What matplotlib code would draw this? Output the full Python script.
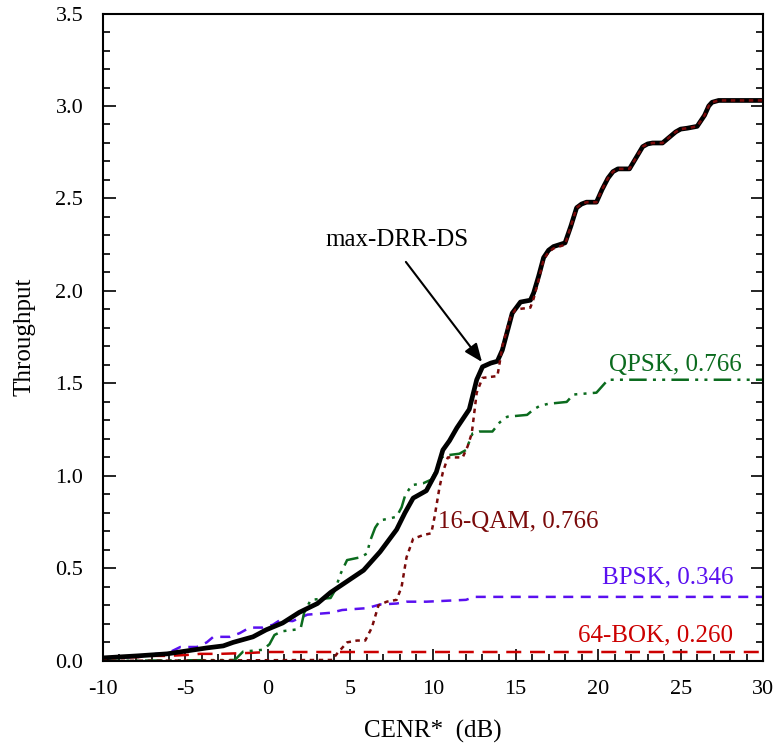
import matplotlib.pyplot as plt
from matplotlib.ticker import MultipleLocator

plt.rcParams['font.family'] = ['Liberation Serif', 'DejaVu Serif']
plt.rcParams['axes.unicode_minus'] = False

# max-DRR-DS (black, thick)
drr_x = [-10, -7.9, -6.1, -4.9, -3.7, -2.7, -2.1, -0.9, -0.1, 0.9, 1.9, 3.0, 3.8, 4.8,
         5.8, 6.8, 7.8, 8.3, 8.8, 9.6, 10.2, 10.6, 11.0, 11.45, 11.6, 12.2, 12.65, 13.0,
         13.5, 13.9, 14.2, 14.5, 14.8, 15.3, 15.9, 16.1, 16.4, 16.7, 17.0, 17.3, 18.0,
         18.35, 18.7, 19.0, 19.3, 19.9, 20.25, 20.6, 20.9, 21.2, 21.9, 22.3, 22.7, 23.0,
         23.3, 23.9, 24.3, 24.7, 25.0, 25.4, 26.0, 26.45, 26.7, 26.9, 27.3, 30]
drr_y = [0.016, 0.027, 0.038, 0.054, 0.07, 0.081, 0.10, 0.13, 0.168, 0.205, 0.262, 0.31,
         0.37, 0.43, 0.49, 0.59, 0.71, 0.80, 0.88, 0.92, 1.02, 1.14, 1.19, 1.26, 1.28, 1.36,
         1.52, 1.59, 1.61, 1.62, 1.68, 1.78, 1.88, 1.94, 1.95, 1.99, 2.08, 2.18, 2.22,
         2.24, 2.26, 2.35, 2.45, 2.47, 2.48, 2.48, 2.55, 2.61, 2.645, 2.66, 2.66, 2.72,
         2.78, 2.795, 2.80, 2.80, 2.83, 2.86, 2.875, 2.88, 2.89, 2.95, 3.00, 3.02, 3.03,
         3.03]

# 16-QAM (dark red, dotted)
qam_x = [-10, 3.9, 4.2, 4.8, 5.4, 5.9, 6.3, 6.7, 7.2, 7.8, 8.1, 8.4, 8.8, 9.4, 9.9, 10.1,
         10.4, 10.6, 10.9, 11.8, 12.1, 12.35, 12.65, 13.0, 13.9, 14.0, 14.2, 14.7, 15.0,
         15.9, 16.1, 16.4, 16.7, 17.0, 17.3, 18.0, 18.35, 18.7, 19.0, 19.3, 19.9, 20.25,
         20.6, 20.9, 21.2, 21.9, 22.3, 22.7, 23.0, 23.3, 23.9, 24.3, 24.7, 25.0, 25.4,
         26.0, 26.45, 26.7, 26.9, 27.3, 30]
qam_y = [0.0, 0.005, 0.04, 0.10, 0.11, 0.11, 0.18, 0.30, 0.32, 0.33, 0.40, 0.56, 0.66,
         0.68, 0.69, 0.78, 0.94, 1.02, 1.10, 1.10, 1.16, 1.23, 1.45, 1.53, 1.54, 1.59, 1.70,
         1.86, 1.90, 1.91, 1.96, 2.06, 2.17, 2.21, 2.23, 2.25, 2.35, 2.45, 2.47, 2.48,
         2.48, 2.55, 2.61, 2.645, 2.66, 2.66, 2.72, 2.78, 2.795, 2.80, 2.80, 2.83, 2.86,
         2.875, 2.88, 2.89, 2.95, 3.00, 3.02, 3.03, 3.03]

# QPSK (green, dash-dot-dot)
qpsk_x = [-10, -2.0, -1.5, -0.9, -0.3, 0.1, 0.4, 0.85, 1.75, 2.0, 2.2, 2.6, 3.8, 4.06,
          4.4, 4.8, 5.6, 6.0, 6.2, 6.5, 6.8, 7.4, 7.8, 8.1, 8.3, 8.7, 9.4, 9.9, 10.2,
          10.4, 10.7, 11.6, 12.0, 12.4, 12.8, 13.6, 14.05, 14.5, 15.7, 16.1, 16.5, 17.0,
          18.1, 18.5, 19.9, 20.2, 20.6, 30]
qpsk_y = [0.0, 0.005, 0.05, 0.055, 0.06, 0.09, 0.14, 0.16, 0.17, 0.18, 0.26, 0.33, 0.34,
          0.38, 0.47, 0.545, 0.56, 0.58, 0.65, 0.72, 0.76, 0.77, 0.78, 0.83, 0.89, 0.95,
          0.96, 0.98, 1.03, 1.09, 1.11, 1.12, 1.14, 1.23, 1.24, 1.24, 1.29, 1.32, 1.33,
          1.36, 1.38, 1.39, 1.40, 1.44, 1.45, 1.48, 1.52, 1.52]

# BPSK (blue, dashed)
bpsk_x = [-10, -8.5, -7.9, -7.2, -6.1, -5.3, -4.3, -3.7, -3.3, -2.3, -1.7, -1.1, -0.3,
          0.3, 0.73, 1.5, 2.4, 3.8, 4.5, 5.2, 6.0, 6.8, 7.8, 8.4, 9.6, 10.8, 12.0, 12.5, 30]
bpsk_y = [0.016, 0.02, 0.02, 0.036, 0.04, 0.075, 0.075, 0.10, 0.13, 0.13, 0.15, 0.18,
          0.18, 0.195, 0.22, 0.215, 0.25, 0.26, 0.275, 0.28, 0.285, 0.305, 0.31, 0.32,
          0.32, 0.325, 0.33, 0.346, 0.346]

# 64-BOK (red, long dashes)
bok_x = [-10, -7.9, -7.2, -6.1, -4.9, -4.1, -2.9, -1.1, 0.0, 30]
bok_y = [0.018, 0.02, 0.027, 0.027, 0.032, 0.038, 0.038, 0.043, 0.048, 0.048]

fig = plt.figure(figsize=(7.78, 7.51), dpi=100)
ax = fig.add_axes([0.132, 0.120, 0.849, 0.862])

ax.plot(bok_x, bok_y, color='#cc0000', lw=1.8, linestyle=(0, (6, 3.5)))
ax.plot(bpsk_x, bpsk_y, color='#5a10f0', lw=1.8, linestyle=(0, (4, 3)))
ax.plot(qpsk_x, qpsk_y, color='#0b6b1e', lw=1.8,
        linestyle=(0, (7, 2.5, 1.2, 2.5, 1.2, 2.5)))
ax.plot(drr_x, drr_y, color='black', lw=3.4, solid_joinstyle='round')
ax.plot(qam_x, qam_y, color='#7a0a0a', lw=1.8, linestyle=(0, (1.8, 1.8)))

ax.set_xlim(-10, 30)
ax.set_ylim(0, 3.5)
ax.xaxis.set_major_locator(MultipleLocator(5))
ax.xaxis.set_minor_locator(MultipleLocator(1))
ax.yaxis.set_major_locator(MultipleLocator(0.5))
ax.yaxis.set_minor_locator(MultipleLocator(0.1))
ax.yaxis.set_major_formatter(plt.FormatStrFormatter('%.1f'))
ax.tick_params(which='both', direction='in', right=True, top=False, width=1.2,
               labelsize=16)
ax.tick_params(which='major', length=9, pad=14)
ax.tick_params(which='minor', length=5)
for s in ax.spines.values():
    s.set_linewidth(1.5)

ax.set_xlabel('CENR*  (dB)', fontsize=18, labelpad=15)
ax.set_ylabel('Throughput', fontsize=18, labelpad=14)

ax.text(7.8, 2.276, 'max-DRR-DS', fontsize=18, ha='center', va='center')
ax.annotate('', xy=(12.97, 1.616), xytext=(8.36, 2.157),
            arrowprops=dict(arrowstyle='-|>,head_length=1.1,head_width=0.45',
                            color='black', lw=1.5, shrinkA=0, shrinkB=0))
ax.text(28.7, 1.60, 'QPSK, 0.766', color='#0b6b1e', fontsize=18, ha='right', va='center')
ax.text(10.3, 0.75, '16-QAM, 0.766', color='#7a0a0a', fontsize=18, ha='left', va='center')
ax.text(28.2, 0.45, 'BPSK, 0.346', color='#5a10f0', fontsize=18, ha='right', va='center')
ax.text(28.2, 0.14, '64-BOK, 0.260', color='#cc0000', fontsize=18, ha='right', va='center')

plt.savefig('out.png')
